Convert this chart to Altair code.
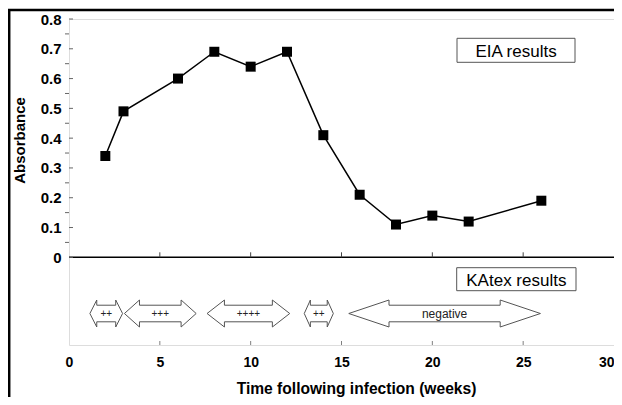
import altair as alt
import pandas as pd

# ---------------- data ----------------
weeks = [2, 3, 6, 8, 10, 12, 14, 16, 18, 20, 22, 26]
absorbance = [0.34, 0.49, 0.60, 0.69, 0.64, 0.69, 0.41, 0.21, 0.11, 0.14, 0.12, 0.19]

katex_labels = ["++", "+++", "++++", "++", "negative"]
katex_start = [1.15, 3.05, 7.6, 12.95, 15.4]
katex_end = [2.95, 7.0, 12.15, 14.55, 25.95]

x_ticks = [0, 5, 10, 15, 20, 25, 30]
y_major = [0, 0.1, 0.2, 0.3, 0.4, 0.5, 0.6, 0.7, 0.8]
y_minor = [0.05, 0.15, 0.25, 0.35, 0.45, 0.55, 0.65, 0.75]

eia_title = "EIA results"
katex_title = "KAtex results"
x_title = "Time following infection (weeks)"
y_title = "Absorbance"

# ---------------- layout / style ----------------
W, H = 545, 326
Y_MIN, Y_MAX = -0.2944, 0.8
PXU = H / (Y_MAX - Y_MIN)          # pixels per absorbance unit
FONT = "Liberation Sans"
GRAY = "#808080"
ARROW = "#555555"

# arrow geometry (derived from start / end values)
A_CY = -56.2 / PXU      # centre line of the arrows
A_HEAD = 13.5 / PXU     # half height of arrow heads
A_SHAFT = 8.3 / PXU     # half height of the shaft
HEAD_FRAC = 0.21

rows = []
for i, (s, e) in enumerate(zip(katex_start, katex_end)):
    h = HEAD_FRAC * (e - s)
    pts = [(s, A_CY), (s + h, A_CY + A_HEAD), (s + h, A_CY + A_SHAFT),
           (e - h, A_CY + A_SHAFT), (e - h, A_CY + A_HEAD), (e, A_CY),
           (e - h, A_CY - A_HEAD), (e - h, A_CY - A_SHAFT), (s + h, A_CY - A_SHAFT),
           (s + h, A_CY - A_HEAD), (s, A_CY)]
    for k, (px, py) in enumerate(pts):
        rows.append({"arrow": i, "k": k, "x": px, "y": py})
arrows_df = pd.DataFrame(rows)

labels_df = pd.DataFrame({
    "label": katex_labels,
    "x": [(s + e) / 2 for s, e in zip(katex_start, katex_end)],
    "y": [A_CY] * len(katex_labels),
})

eia_df = pd.DataFrame({"x": weeks, "y": absorbance})

xs = alt.Scale(domain=[0, 30], nice=False, zero=False)
ys = alt.Scale(domain=[Y_MIN, Y_MAX], nice=False, zero=False)

X_AXIS = alt.Axis(
    values=x_ticks, ticks=False, domain=False, grid=False,
    labelFont=FONT, labelFontSize=14, labelFontWeight="bold", labelColor="black",
    labelPadding=10, labelFlush=False, labelOverlap=False,
    labelAlign={"condition": {"test": "datum.value == 30", "value": "right"},
                "value": "center"},
    title=x_title, titleFont=FONT, titleFontSize=15.6, titleFontWeight="bold",
    titleColor="black", titleX=287, titleY=48, titleAlign="center",
    titleBaseline="alphabetic")
Y_AXIS = alt.Axis(
    values=y_major, ticks=False, domain=False, grid=False,
    labelFont=FONT, labelFontSize=15, labelFontWeight="bold", labelColor="black",
    labelPadding=8, labelFlush=False, labelOverlap=False,
    labelExpr="datum.value == 0 ? '0' : format(datum.value, '.1f')",
    title=y_title, titleFont=FONT, titleFontSize=15, titleFontWeight="bold",
    titleColor="black", titleX=-50, titleY=121, titleAngle=270,
    titleAlign="center", titleBaseline="middle")


def X():
    return alt.X("x:Q", scale=xs, axis=X_AXIS)


def Y():
    return alt.Y("y:Q", scale=ys, axis=Y_AXIS)


one = pd.DataFrame({"a": [0]})

# outer black frame (top and left)
frame_top = alt.Chart(one).mark_rule(color="black", strokeWidth=2.5).encode(
    x=alt.value(-61), x2=alt.value(W + 10), y=alt.value(-9))
frame_left = alt.Chart(one).mark_rule(color="black", strokeWidth=2.5).encode(
    x=alt.value(-59.8), y=alt.value(-10), y2=alt.value(H + 80))

# EIA series
line = alt.Chart(eia_df).mark_line(color="black", strokeWidth=1.5).encode(x=X(), y=Y())
points = alt.Chart(eia_df).mark_point(shape="square", filled=True, size=100,
                                      color="black", opacity=1).encode(x=X(), y=Y())

# zero line
zero_line = alt.Chart(pd.DataFrame({"y": [0.0]})).mark_rule(
    color="black", strokeWidth=1.6).encode(y=Y(), x=alt.value(0), x2=alt.value(W))

# y ticks: majors point inward, minors outward
y_minor_ticks = alt.Chart(pd.DataFrame({"y": y_minor})).mark_rule(
    color="#666666", strokeWidth=1).encode(y=Y(), x=alt.value(-4), x2=alt.value(0))
y_major_ticks = alt.Chart(pd.DataFrame({"y": y_major})).mark_rule(
    color="#666666", strokeWidth=1).encode(y=Y(), x=alt.value(0), x2=alt.value(4))

# x ticks on the zero line and on the bottom edge
inner_x = [t for t in x_ticks if 0 < t < 30]
xt_zero = pd.DataFrame({"x": inner_x, "y": [0.0] * len(inner_x),
                        "y2": [5 / PXU] * len(inner_x)})
xt_bot = pd.DataFrame({"x": inner_x, "y": [Y_MIN] * len(inner_x),
                       "y2": [Y_MIN + 4 / PXU] * len(inner_x)})
x_ticks_zero = alt.Chart(xt_zero).mark_rule(color="#444444", strokeWidth=1).encode(
    x=X(), y=Y(), y2="y2:Q")
x_ticks_bot = alt.Chart(xt_bot).mark_rule(color=GRAY, strokeWidth=1).encode(
    x=X(), y=Y(), y2="y2:Q")

# KAtex arrows
arrows = alt.Chart(arrows_df).mark_line(color=ARROW, strokeWidth=1).encode(
    x=X(), y=Y(), detail="arrow:N", order="k:Q")
plus_text = alt.Chart(labels_df).transform_filter("datum.label != 'negative'").mark_text(
    font=FONT, fontSize=10, color="#222222", baseline="alphabetic", dy=3.1).encode(
    x=X(), y=Y(), text="label:N")
neg_text = alt.Chart(labels_df).transform_filter("datum.label == 'negative'").mark_text(
    font=FONT, fontSize=12, color="#222222", baseline="alphabetic", dy=4.8).encode(
    x=X(), y=Y(), text="label:N")


# legend boxes
def box(x1, x2, y1, y2, label, ybase):
    r = alt.Chart(one).mark_rect(fill="white", stroke="#555555", strokeWidth=1).encode(
        x=alt.value(x1), x2=alt.value(x2), y=alt.value(y1), y2=alt.value(y2))
    t = alt.Chart(one).mark_text(font=FONT, fontSize=17, color="black",
                                 align="center", baseline="alphabetic").encode(
        x=alt.value((x1 + x2) / 2), y=alt.value(ybase), text=alt.value(label))
    return [r, t]


layers = [frame_top, frame_left, line, zero_line, y_minor_ticks, y_major_ticks,
          x_ticks_zero, x_ticks_bot, points, arrows, plus_text, neg_text]
layers += box(388, 506, 19.3, 43.3, eia_title, 37.7)
layers += box(387.7, 507, 248.7, 271.7, katex_title, 267)

chart = alt.layer(*layers).properties(
    width=W, height=H,
    padding={"left": 61, "top": 11, "right": 0, "bottom": 52},
    autosize=alt.AutoSizeParams(type="none"),
).configure_view(stroke=GRAY, strokeWidth=1).configure(font=FONT, background="white")

chart.save("out.html", embed_options={"renderer": "svg", "actions": False})
